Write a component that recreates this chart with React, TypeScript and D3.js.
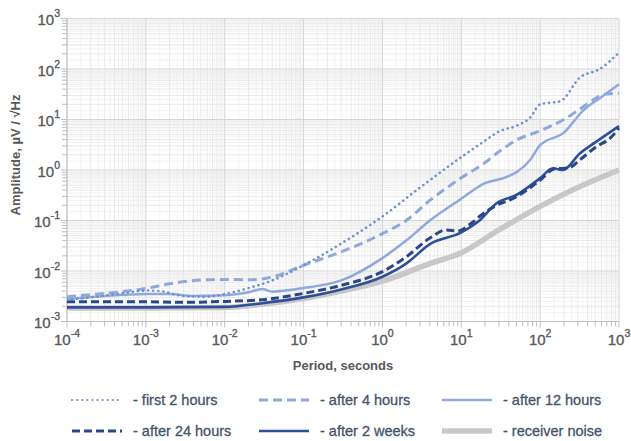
import React from "react";
import * as d3 from "d3";

const width = 631;
const height = 441;
const plot = { left: 67, right: 619, top: 18.5, bottom: 321.5 };
const font = "'Liberation Sans', Arial, sans-serif";

// decade exponents used for tick labels
const xExponents = [-4, -3, -2, -1, 0, 1, 2, 3];
const yExponents = [-3, -2, -1, 0, 1, 2, 3];

// first 2 hours
const first2hPeriod = [1e-4, 2e-4, 5e-4, 1e-3, 1.5e-3, 3e-3, 6e-3, 1e-2, 2e-2, 4e-2, 0.1, 0.3, 1, 3, 10, 20, 30, 50, 75, 100, 180, 320, 570, 1000];
const first2hAmp = [2.7e-3, 3.0e-3, 3.6e-3, 4.1e-3, 4.0e-3, 3.2e-3, 3.1e-3, 3.5e-3, 4.6e-3, 6.5e-3, 0.013, 0.035, 0.12, 0.45, 1.8, 3.8, 5.8, 7.5, 11, 20, 23, 68, 100, 210];

// after 4 hours
const after4hPeriod = [1e-4, 3e-4, 1e-3, 2e-3, 5e-3, 1e-2, 2e-2, 4e-2, 0.1, 0.3, 1, 2, 4, 10, 20, 30, 50, 100, 200, 300, 500, 700, 1000];
const after4hAmp = [3.1e-3, 3.6e-3, 4.5e-3, 5.6e-3, 6.6e-3, 6.8e-3, 6.7e-3, 7.6e-3, 0.013, 0.024, 0.055, 0.1, 0.25, 0.7, 1.4, 2.3, 3.9, 6, 10, 15, 26, 32, 33];

// after 12 hours
const after12hPeriod = [1e-4, 3e-4, 1e-3, 2e-3, 4e-3, 1e-2, 2e-2, 3e-2, 4e-2, 0.1, 0.3, 1, 2, 4, 10, 20, 35, 50, 75, 100, 200, 350, 600, 1000];
const after12hAmp = [2.8e-3, 3.2e-3, 3.5e-3, 3.5e-3, 3.2e-3, 3.3e-3, 3.8e-3, 4.4e-3, 3.9e-3, 4.6e-3, 6.5e-3, 0.018, 0.04, 0.1, 0.27, 0.55, 0.7, 0.9, 1.6, 3.1, 5.5, 15, 28, 50];

// after 24 hours
const after24hPeriod = [1e-4, 1e-3, 3e-3, 1e-2, 3e-2, 0.1, 0.3, 1, 2, 4, 6.5, 9, 13, 17, 28, 45, 74, 100, 150, 230, 320, 500, 800, 1000];
const after24hAmp = [2.45e-3, 2.45e-3, 2.4e-3, 2.5e-3, 2.7e-3, 3.6e-3, 5.2e-3, 9.7e-3, 0.019, 0.045, 0.065, 0.062, 0.085, 0.12, 0.2, 0.27, 0.44, 0.63, 1.05, 1.1, 1.6, 2.8, 4.5, 6.8];

// after 2 weeks
const after2wPeriod = [1e-4, 1e-3, 1e-2, 3e-2, 0.1, 0.3, 1, 2, 4, 10, 17, 28, 50, 100, 145, 195, 316, 510, 1000];
const after2wAmp = [1.9e-3, 1.9e-3, 1.95e-3, 2.3e-3, 3.0e-3, 4.3e-3, 7.7e-3, 0.014, 0.034, 0.058, 0.1, 0.22, 0.32, 0.69, 1.08, 1.0, 2.1, 3.6, 7.4];

// receiver noise
const noisePeriod = [1e-4, 1e-3, 1e-2, 3e-2, 0.1, 0.3, 1, 4, 10, 30, 100, 300, 1000];
const noiseAmp = [1.85e-3, 1.85e-3, 1.9e-3, 2.2e-3, 2.85e-3, 4.0e-3, 6.3e-3, 0.014, 0.023, 0.065, 0.19, 0.45, 1.0];

const series = [
  { label: "- receiver noise", p: noisePeriod, a: noiseAmp, color: "#c8c8c8", w: 5.5, dash: null, cap: "butt" },
  { label: "- after 2 weeks", p: after2wPeriod, a: after2wAmp, color: "#2f4f98", w: 2.6, dash: null, cap: "butt" },
  { label: "- after 24 hours", p: after24hPeriod, a: after24hAmp, color: "#294889", w: 3, dash: "8 4", cap: "butt" },
  { label: "- after 12 hours", p: after12hPeriod, a: after12hAmp, color: "#8eaadc", w: 2.5, dash: null, cap: "butt" },
  { label: "- after 4 hours", p: after4hPeriod, a: after4hAmp, color: "#8ea9da", w: 3, dash: "9 5", cap: "butt" },
  { label: "- first 2 hours", p: first2hPeriod, a: first2hAmp, color: "#7090d0", w: 2.6, dash: "0.1 5", cap: "round" },
];

// legend order as in the picture
const legendOrder = [
  "- first 2 hours", "- after 4 hours", "- after 12 hours",
  "- after 24 hours", "- after 2 weeks", "- receiver noise",
];

const App = () => {
  const x = d3.scaleLog().domain([1e-4, 1e3]).range([plot.left, plot.right]);
  const y = d3.scaleLog().domain([1e-3, 1e3]).range([plot.bottom, plot.top]);

  const line = d3
    .line<[number, number]>()
    .x(d => x(d[0]))
    .y(d => y(d[1]))
    .curve(d3.curveMonotoneX);

  // grid values
  const subMinor: number[] = [];
  const minor: number[] = [];
  for (let e = -4; e < 3; e++) {
    for (let k = 1.5; k < 10; k += 0.5) {
      if (Number.isInteger(k)) minor.push(k * Math.pow(10, e));
      else subMinor.push(k * Math.pow(10, e));
    }
  }
  const xSub = subMinor.filter(v => v >= 1e-4 && v <= 1e3);
  const xMinor = minor.filter(v => v >= 1e-4 && v <= 1e3);
  const ySub = subMinor.filter(v => v >= 1e-3 && v <= 1e3);
  const yMinor = minor.filter(v => v >= 1e-3 && v <= 1e3);

  const legendCols = [72, 259, 442];
  const legendRows = [400, 431];

  return (
    <div style={{ position: "absolute", left: 0, top: 0 }}>
      <svg width={width} height={height} style={{ display: "block", background: "#fff" }}>
        {/* sub-minor grid */}
        <g stroke="#f3f3f3" strokeWidth={1}>
          {xSub.map((v, i) => (
            <line key={"xs" + i} x1={x(v)} x2={x(v)} y1={plot.top} y2={plot.bottom} />
          ))}
          {ySub.map((v, i) => (
            <line key={"ys" + i} x1={plot.left} x2={plot.right} y1={y(v)} y2={y(v)} />
          ))}
        </g>
        {/* minor grid */}
        <g stroke="#e9e9e9" strokeWidth={1}>
          {xMinor.map((v, i) => (
            <line key={"xm" + i} x1={x(v)} x2={x(v)} y1={plot.top} y2={plot.bottom} />
          ))}
          {yMinor.map((v, i) => (
            <line key={"ym" + i} x1={plot.left} x2={plot.right} y1={y(v)} y2={y(v)} />
          ))}
        </g>
        {/* major grid */}
        <g stroke="#d6d6d6" strokeWidth={1}>
          {xExponents.map(e => (
            <line key={"xM" + e} x1={x(Math.pow(10, e))} x2={x(Math.pow(10, e))} y1={plot.top} y2={plot.bottom} />
          ))}
          {yExponents.map(e => (
            <line key={"yM" + e} x1={plot.left} x2={plot.right} y1={y(Math.pow(10, e))} y2={y(Math.pow(10, e))} />
          ))}
        </g>
        {/* axes with tick marks */}
        <g stroke="#bfbfbf" strokeWidth={1}>
          <line x1={plot.left} x2={plot.right} y1={plot.bottom} y2={plot.bottom} />
          <line x1={plot.left} x2={plot.left} y1={plot.top} y2={plot.bottom} />
          {xMinor.map((v, i) => (
            <line key={"xt" + i} x1={x(v)} x2={x(v)} y1={plot.bottom} y2={plot.bottom + 5} />
          ))}
          {xExponents.map(e => (
            <line key={"xT" + e} x1={x(Math.pow(10, e))} x2={x(Math.pow(10, e))} y1={plot.bottom} y2={plot.bottom + 6} />
          ))}
          {yMinor.map((v, i) => (
            <line key={"yt" + i} x1={plot.left - 5} x2={plot.left} y1={y(v)} y2={y(v)} />
          ))}
          {yExponents.map(e => (
            <line key={"yT" + e} x1={plot.left - 6} x2={plot.left} y1={y(Math.pow(10, e))} y2={y(Math.pow(10, e))} />
          ))}
        </g>

        {/* tick labels */}
        <g fontFamily={font} fill="#595959" stroke="#595959" strokeWidth={0.35} fontSize={15}>
          {xExponents.map(e => (
            <text key={"xl" + e} x={x(Math.pow(10, e))} y={345} textAnchor="middle">
              <tspan>10</tspan>
              <tspan dy={-8} fontSize={10.5}>{e}</tspan>
            </text>
          ))}
          {yExponents.map(e => (
            <text key={"yl" + e} x={60} y={y(Math.pow(10, e)) + 6.5} textAnchor="end">
              <tspan>10</tspan>
              <tspan dy={-8} fontSize={10.5}>{e}</tspan>
            </text>
          ))}
        </g>

        {/* axis titles */}
        <text x={(plot.left + plot.right) / 2} y={370} textAnchor="middle" fontFamily={font} fontWeight="bold" fontSize={13} fill="#595959">
          Period, seconds
        </text>
        <text transform="translate(20,155) rotate(-90)" textAnchor="middle" fontFamily={font} fontWeight="bold" fontSize={13} fill="#595959">
          Amplitude, µV / √Hz
        </text>

        {/* curves */}
        <defs>
          <clipPath id="plotClip">
            <rect x={plot.left} y={plot.top - 5} width={plot.right - plot.left + 3} height={plot.bottom - plot.top + 5} />
          </clipPath>
        </defs>
        <g fill="none" clipPath="url(#plotClip)">
          {series.map(s => (
            <path
              key={s.label}
              d={line(s.p.map((p, i) => [p, s.a[i]] as [number, number])) || ""}
              stroke={s.color}
              strokeWidth={s.w}
              strokeDasharray={s.dash || undefined}
              strokeLinecap={s.cap as any}
              strokeLinejoin="round"
            />
          ))}
        </g>

        {/* legend */}
        <g fontFamily={font} fontSize={14.5}>
          {legendOrder.map((label, i) => {
            const s = series.find(d => d.label === label)!;
            const lx = legendCols[i % 3];
            const ly = legendRows[Math.floor(i / 3)];
            return (
              <g key={label}>
                <line
                  x1={lx}
                  x2={lx + 50}
                  y1={ly}
                  y2={ly}
                  stroke={s.color}
                  strokeWidth={s.cap === "round" ? 2.2 : s.w}
                  strokeDasharray={s.dash || undefined}
                  strokeLinecap={s.cap as any}
                />
                <text x={lx + 61} y={ly + 5} fill="#44546a" stroke="#44546a" strokeWidth={0.3}>
                  {label}
                </text>
              </g>
            );
          })}
        </g>
      </svg>
    </div>
  );
};

export default App;
